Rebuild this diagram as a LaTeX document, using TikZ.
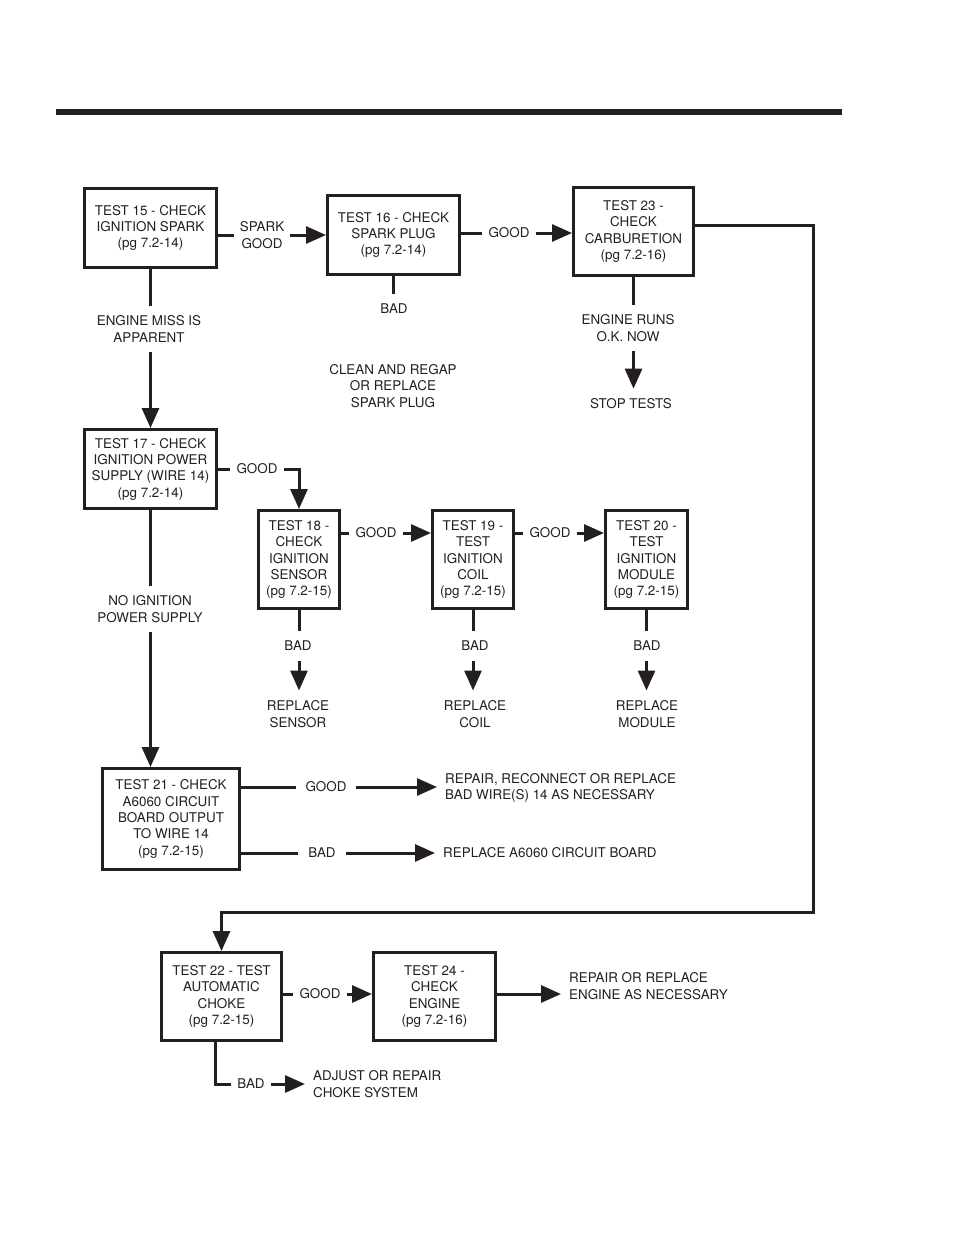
\documentclass[tikz,border=0pt]{standalone}
\usepackage{fontspec}
\setmainfont{TeX Gyre Heros}
\usepackage{xcolor}
\usepackage{tikz}
\usetikzlibrary{arrows.meta,positioning}
\definecolor{tsInk}{HTML}{231F20}
\tikzset{
  ts diagram/.style={x=1pt, y=-1pt, color=tsInk,
    font=\fontsize{13.4}{16.3}\selectfont},
  ts box/.style={draw=tsInk, line width=3pt, fill=white, align=center,
    inner sep=0pt},
  ts label/.style={align=center, inner xsep=6pt, inner ysep=10pt},
  ts note/.style={anchor=west, align=left, inner xsep=8pt, inner ysep=0pt},
  ts line/.style={draw=tsInk, line width=3pt},
  ts arrow/.style={ts line, -{Triangle[length=20pt,width=17pt]}}
}

\begin{document}
\begin{tikzpicture}[ts diagram]
\useasboundingbox (0,0) rectangle (954,1235);
\draw[line width=6pt] (56,112) -- (842,112);

% test boxes
\node[ts box, minimum width=132pt, minimum height=79pt] (t15) at (150.5,228) {TEST 15 - CHECK\\IGNITION SPARK\\(pg 7.2-14)};
\node[ts box, minimum width=132pt, minimum height=79pt] (t16) at (393.5,235) {TEST 16 - CHECK\\SPARK PLUG\\(pg 7.2-14)};
\node[ts box, minimum width=120pt, minimum height=88pt] (t23) at (633.5,231.5) {TEST 23 -\\CHECK\\CARBURETION\\(pg 7.2-16)};
\node[ts box, minimum width=132pt, minimum height=79pt] (t17) at (150.5,469) {TEST 17 - CHECK\\IGNITION POWER\\SUPPLY (WIRE 14)\\(pg 7.2-14)};
\node[ts box, minimum width=81pt, minimum height=98pt] (t18) at (299,559.5) {TEST 18 -\\CHECK\\IGNITION\\SENSOR\\(pg 7.2-15)};
\node[ts box, minimum width=81pt, minimum height=98pt] (t19) at (473,559.5) {TEST 19 -\\TEST\\IGNITION\\COIL\\(pg 7.2-15)};
\node[ts box, minimum width=82pt, minimum height=98pt] (t20) at (646.5,559.5) {TEST 20 -\\TEST\\IGNITION\\MODULE\\(pg 7.2-15)};
\node[ts box, minimum width=137pt, minimum height=101pt] (t21) at (171,819) {TEST 21 - CHECK\\A6060 CIRCUIT\\BOARD OUTPUT\\TO WIRE 14\\(pg 7.2-15)};
\node[ts box, minimum width=120pt, minimum height=88pt] (t22) at (221.5,996.5) {TEST 22 - TEST\\AUTOMATIC\\CHOKE\\(pg 7.2-15)};
\node[ts box, minimum width=122pt, minimum height=88pt] (t24) at (434.5,996.5) {TEST 24 -\\CHECK\\ENGINE\\(pg 7.2-16)};

% top row
\node[ts label] (sparkgood) at (262,235) {SPARK\\GOOD};
\draw[ts line] (t15.east |- sparkgood.west) -- (sparkgood.west);
\draw[ts arrow] (sparkgood.east) -- (t16.west |- sparkgood.east);
\node[ts label] (good16) at (509,233) {GOOD};
\draw[ts line] (t16.east |- good16.west) -- (good16.west);
\draw[ts arrow] (good16.east) -- (t23.west |- good16.east);
\node[ts label] (bad16) at (394,309) {BAD};
\draw[ts line] (t16.south) -- (t16.south |- bad16.north);
\node[ts label] (clean) at (393,386) {CLEAN AND REGAP\\OR REPLACE\\SPARK PLUG};
\node[ts label] (runs) at (628,328) {ENGINE RUNS\\O.K. NOW};
\draw[ts line] (t23.south) -- (t23.south |- runs.north);
\node[ts label] (stop) at (631,404) {STOP TESTS};
\draw[ts arrow] (t23.south |- runs.south) -- (t23.south |- stop.north);
\node[ts label] (miss) at (149,329) {ENGINE MISS IS\\APPARENT};
\draw[ts line] (t15.south) -- (t15.south |- miss.north);
\draw[ts arrow] (t15.south |- miss.south) -- (t17.north);

% ignition power branch
\node[ts label] (good17) at (257,469) {GOOD};
\draw[ts line] (t17.east |- good17.west) -- (good17.west);
\draw[ts arrow] (good17.east) -| (t18.north);
\node[ts label] (good18) at (376,533) {GOOD};
\draw[ts line] (t18.east |- good18.west) -- (good18.west);
\draw[ts arrow] (good18.east) -- (t19.west |- good18.east);
\node[ts label] (good19) at (550,533) {GOOD};
\draw[ts line] (t19.east |- good19.west) -- (good19.west);
\draw[ts arrow] (good19.east) -- (t20.west |- good19.east);
\foreach \t/\x/\part in {t18/298/SENSOR,t19/475/COIL,t20/647/MODULE}{
  \node[ts label] (bad\t) at (\x,646) {BAD};
  \node[ts label] (rep\t) at (\x,714) {REPLACE\\\part};
  \draw[ts line] (\t.south) -- (\t.south |- bad\t.north);
  \draw[ts arrow] (\t.south |- bad\t.south) -- (\t.south |- rep\t.north);
}
\node[ts label] (noign) at (150,609) {NO IGNITION\\POWER SUPPLY};
\draw[ts line] (t17.south) -- (t17.south |- noign.north);
\draw[ts arrow] (t17.south |- noign.south) -- (t17.south |- t21.north);

% circuit board
\node[ts label, inner xsep=9pt] (good21) at (326,787) {GOOD};
\node[ts note] (repwire) at (437,788) {REPAIR, RECONNECT OR REPLACE\\BAD WIRE(S) 14 AS NECESSARY};
\draw[ts line] (t21.east |- good21.west) -- (good21.west);
\draw[ts arrow] (good21.east) -- (repwire.west |- good21.east);
\node[ts label, inner xsep=10pt] (bad21) at (322,853) {BAD};
\node[ts note] (repboard) at (435,853) {REPLACE A6060 CIRCUIT BOARD};
\draw[ts line] (t21.east |- bad21.west) -- (bad21.west);
\draw[ts arrow] (bad21.east) -- (repboard.west);

% carburetion loop to choke
\coordinate (looptop) at (813,225);
\coordinate (loopbot) at (813,912);
\draw[ts arrow] (t23.east |- looptop) -- (looptop) -- (loopbot) -| (t22.north);

% choke and engine
\node[ts label] (good22) at (320,994) {GOOD};
\draw[ts line] (t22.east |- good22.west) -- (good22.west);
\draw[ts arrow] (good22.east) -- (t24.west |- good22.east);
\node[ts note] (repengine) at (561,986) {REPAIR OR REPLACE\\ENGINE AS NECESSARY};
\draw[ts arrow] (t24.east |- good22.east) -- (repengine.west |- good22.east);
\coordinate (c22) at (215,1084);
\node[ts label] (bad22) at (251,1084) {BAD};
\node[ts note] (adjust) at (305,1084) {ADJUST OR REPAIR\\CHOKE SYSTEM};
\draw[ts line] (t22.south -| c22) |- (bad22.west);
\draw[ts arrow] (bad22.east) -- (adjust.west);
\end{tikzpicture}
\end{document}
